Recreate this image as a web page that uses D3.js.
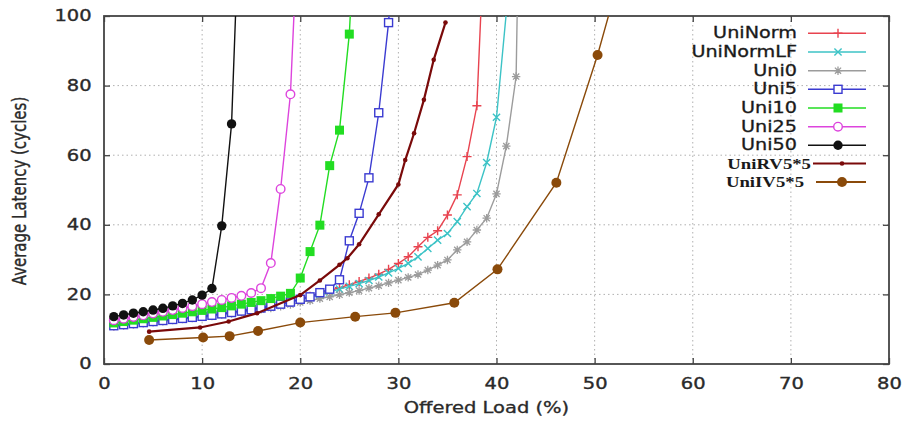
<!DOCTYPE html>
<html><head><meta charset="utf-8">
<script src="https://cdn.jsdelivr.net/npm/d3@7"></script>
<style>body{margin:0;background:#fff}svg{display:block}</style>
</head><body><svg id="c" width="905" height="421"></svg>
<script>
const xTicks=[0,10,20,30,40,50,60,70,80];
const yTicks=[0,20,40,60,80,100];
const seriesNames=["UniNorm","UniNormLF","Uni0","Uni5","Uni10","Uni25","Uni50","UniRV5*5","UniIV5*5"];
const uniNorm=[[1,11.0],[2,11.3],[3,11.6],[4,11.9],[5,12.2],[6,12.5],[7,12.8],[8,13.1],[9,13.4],[10,13.8],[11,14.1],[12,14.5],[13,14.9],[14,15.3],[15,15.8],[16,16.3],[17,16.8],[18,17.3],[19,17.9],[20,18.7],[21,19.5],[22,20.3],[23,21.1],[24,21.9],[25,22.8],[26,23.7],[27,24.7],[28,25.8],[29,27.2],[30,28.9],[31,30.8],[32,33.7],[33,36.4],[34,38.3],[35,42.8],[36,48.6],[37,59.6],[38,74.2],[39,140]];
const uniNormLF=[[1,10.9],[2,11.2],[3,11.5],[4,11.8],[5,12.1],[6,12.4],[7,12.7],[8,13.0],[9,13.3],[10,13.7],[11,14.0],[12,14.4],[13,14.8],[14,15.2],[15,15.7],[16,16.2],[17,16.7],[18,17.2],[19,17.8],[20,18.5],[21,19.2],[22,20.0],[23,20.7],[24,21.5],[25,22.3],[26,23.1],[27,24.0],[28,25.0],[29,26.2],[30,27.5],[31,28.9],[32,30.8],[33,33.2],[34,35.6],[35,37.5],[36,40.9],[37,45.2],[38,49.0],[39,57.9],[40,70.9],[41,101]];
const uni0=[[1,10.8],[2,11.1],[3,11.4],[4,11.7],[5,12.0],[6,12.3],[7,12.6],[8,12.9],[9,13.2],[10,13.5],[11,13.8],[12,14.2],[13,14.5],[14,14.9],[15,15.3],[16,15.7],[17,16.1],[18,16.6],[19,17.1],[20,17.7],[21,18.2],[22,18.8],[23,19.3],[24,19.9],[25,20.5],[26,21.1],[27,21.8],[28,22.5],[29,23.3],[30,24.1],[31,24.9],[32,25.7],[33,27.0],[34,28.4],[35,29.9],[36,32.8],[37,35.1],[38,38.5],[39,41.9],[40,48.9],[41,62.6],[42,82.6],[43,250]];
const uni5=[[1,11.0],[2,11.3],[3,11.6],[4,11.9],[5,12.2],[6,12.5],[7,12.8],[8,13.1],[9,13.4],[10,13.7],[11,14.0],[12,14.4],[13,14.8],[14,15.2],[15,15.6],[16,16.1],[17,16.6],[18,17.2],[19,17.8],[20,18.6],[21,19.3],[22,20.5],[23,21.5],[24,24.2],[25,35.4],[26,43.3],[27,53.5],[28,72.2],[29,98.1],[30,140]];
const uni10=[[1,11.8],[2,12.2],[3,12.6],[4,13.0],[5,13.4],[6,13.8],[7,14.2],[8,14.6],[9,15.0],[10,15.4],[11,15.8],[12,16.2],[13,16.7],[14,17.2],[15,17.7],[16,18.2],[17,18.8],[18,19.5],[19,20.3],[20,24.7],[21,32.3],[22,39.9],[23,57.0],[24,67.2],[25,94.8],[26,150]];
const uni25=[[1,12.6],[2,13.0],[3,13.5],[4,14.0],[5,14.5],[6,15.0],[7,15.5],[8,16.1],[9,16.6],[10,17.2],[11,17.8],[12,18.4],[13,19.0],[14,19.6],[15,20.4],[16,21.8],[17,29.0],[18,50.3],[19,77.5],[20,141]];
const uni50=[[1,13.6],[2,14.1],[3,14.6],[4,15.0],[5,15.5],[6,16.0],[7,16.7],[8,17.4],[9,18.4],[10,19.8],[11,21.7],[12,39.7],[13,69.0],[14,146]];
const uniRV=[[4.6,9.3],[9.8,10.5],[12.7,12.2],[15.6,14.6],[20,19.8],[22,24.0],[24,28.5],[24.8,30.4],[26,34.4],[28,43.0],[30,51.6],[30.7,58.6],[31.6,66.3],[32.6,75.9],[33.6,87.4],[34.8,98.1]];
const uniIV=[[4.6,6.9],[10.1,7.6],[12.8,8.0],[15.7,9.5],[20,11.9],[25.6,13.6],[29.7,14.7],[35.7,17.6],[40.1,27.2],[46.1,52.1],[50.3,88.8],[52.5,111]];
const seriesData=[uniNorm,uniNormLF,uni0,uni5,uni10,uni25,uni50,uniRV,uniIV];

const colors=["#e8434f","#3cc3c6","#9c9c9c","#3b3bd1","#22dd22","#dd44dd","#111111","#7a0a0a","#8a4a0a"];
const markers=["plus","cross","star","osquare","fsquare","ocircle","fcircle","dot","bigdot"];

const svg=d3.select("#c");
const L=104,T=16,R=889,B=364;
const x=d3.scaleLinear().domain([0,80]).range([L,R]);
const y=d3.scaleLinear().domain([0,100]).range([B,T]);
const SX=1.3;
const font="DejaVu Sans, sans-serif";
const txtCol="#2a2a2a";

svg.append("clipPath").attr("id","clip").append("rect").attr("x",L).attr("y",T).attr("width",R-L).attr("height",B-T);

// grid
const grid=svg.append("g").attr("stroke","#b0b0b0").attr("stroke-width",1).attr("stroke-dasharray","1.5,3");
xTicks.slice(1,-1).forEach(t=>grid.append("line").attr("x1",x(t)).attr("x2",x(t)).attr("y1",T).attr("y2",B));
yTicks.slice(1,-1).forEach(t=>grid.append("line").attr("y1",y(t)).attr("y2",y(t)).attr("x1",L).attr("x2",R));

// axes
const gx=svg.append("g").attr("transform",`translate(0,${B})`).call(d3.axisBottom(x).tickValues(xTicks).tickSize(-6).tickPadding(14).tickSizeOuter(0));
const gy=svg.append("g").attr("transform",`translate(${L},0)`).call(d3.axisLeft(y).tickValues(yTicks).tickSize(-6).tickPadding(9.5).tickSizeOuter(0));
const gt=svg.append("g").attr("transform",`translate(0,${T})`).call(d3.axisTop(x).tickValues(xTicks).tickSize(-6).tickFormat("").tickSizeOuter(0));
const gr=svg.append("g").attr("transform",`translate(${R},0)`).call(d3.axisRight(y).tickValues(yTicks).tickSize(-6).tickFormat("").tickSizeOuter(0));
[gx,gy,gt,gr].forEach(g=>{g.select(".domain").remove();g.selectAll("line").attr("stroke","#444").attr("stroke-width",1.3);});
[gx,gy].forEach(g=>g.selectAll("text").attr("font-family",font).attr("font-size",15).attr("fill",txtCol).attr("stroke",txtCol).attr("stroke-width",0.35).attr("transform",`scale(${SX},1)`));
svg.append("rect").attr("x",L).attr("y",T).attr("width",R-L).attr("height",B-T).attr("fill","none").attr("stroke","#444").attr("stroke-width",1.8);

// titles
svg.append("text").attr("transform",`translate(${(L+R)/2-10},413) scale(${SX},1)`).attr("text-anchor","middle").attr("font-family",font).attr("font-size",15).attr("fill",txtCol).attr("stroke",txtCol).attr("stroke-width",0.3).text("Offered Load (%)");
svg.append("text").attr("transform",`translate(26,191) scale(${SX},1) rotate(-90)`).attr("text-anchor","middle").attr("font-family",font).attr("font-size",15).attr("fill",txtCol).attr("stroke",txtCol).attr("stroke-width",0.3).text("Average Latency (cycles)");

function drawMarker(g,type,cx,cy,col){
  switch(type){
    case "plus": g.append("path").attr("d",`M${cx-4.5},${cy}H${cx+4.5}M${cx},${cy-4.5}V${cy+4.5}`).attr("stroke",col).attr("stroke-width",1.4).attr("fill","none");break;
    case "cross": g.append("path").attr("d",`M${cx-3.6},${cy-3.6}L${cx+3.6},${cy+3.6}M${cx-3.6},${cy+3.6}L${cx+3.6},${cy-3.6}`).attr("stroke",col).attr("stroke-width",1.4).attr("fill","none");break;
    case "star": g.append("path").attr("d",`M${cx-4.2},${cy}H${cx+4.2}M${cx},${cy-4.2}V${cy+4.2}M${cx-3.1},${cy-3.1}L${cx+3.1},${cy+3.1}M${cx-3.1},${cy+3.1}L${cx+3.1},${cy-3.1}`).attr("stroke",col).attr("stroke-width",1.3).attr("fill","none");break;
    case "osquare": g.append("rect").attr("x",cx-4).attr("y",cy-4).attr("width",8).attr("height",8).attr("fill","#fff").attr("stroke",col).attr("stroke-width",1.4);break;
    case "fsquare": g.append("rect").attr("x",cx-4.5).attr("y",cy-4.5).attr("width",9).attr("height",9).attr("fill",col);break;
    case "ocircle": g.append("circle").attr("cx",cx).attr("cy",cy).attr("r",4.3).attr("fill","#fff").attr("stroke",col).attr("stroke-width",1.4);break;
    case "fcircle": g.append("circle").attr("cx",cx).attr("cy",cy).attr("r",4.7).attr("fill",col);break;
    case "dot": g.append("circle").attr("cx",cx).attr("cy",cy).attr("r",2.3).attr("fill",col);break;
    case "bigdot": g.append("circle").attr("cx",cx).attr("cy",cy).attr("r",5).attr("fill",col);break;
  }
}

const plot=svg.append("g").attr("clip-path","url(#clip)");
const line=d3.line().x(d=>x(d[0])).y(d=>y(d[1]));
seriesData.forEach((data,i)=>{
  const g=plot.append("g");
  g.append("path").datum(data).attr("d",line).attr("fill","none").attr("stroke",colors[i]).attr("stroke-width",i===7?2.2:1.4);
  data.forEach(d=>drawMarker(g,markers[i],x(d[0]),y(d[1]),colors[i]));
});

// legend
const legY=[33.3,52,70.7,89.3,108,126.7,145.3,163.5,182];
const leg=svg.append("g");
seriesNames.forEach((n,i)=>{
  const serif=i>=7;
  const tx=serif?(i===7?811:804):797;
  leg.append("text").attr("transform",`translate(${tx},${legY[i]+5}) scale(${serif?1.25:1.28},1)`).attr("text-anchor","end")
    .attr("font-family",serif?"Liberation Serif, serif":font).attr("font-weight",serif?"bold":"normal").attr("font-size",15).attr("fill","#1a1a1a").attr("stroke","#1a1a1a").attr("stroke-width",serif?0:0.3).text(n);
  const x1=serif?(i===7?813:816):808, x2=866;
  leg.append("line").attr("x1",x1).attr("x2",x2).attr("y1",legY[i]).attr("y2",legY[i]).attr("stroke",colors[i]).attr("stroke-width",i>=7?2.2:1.4);
  drawMarker(leg,markers[i],serif?842:838,legY[i],colors[i]);
});
</script></body></html>
